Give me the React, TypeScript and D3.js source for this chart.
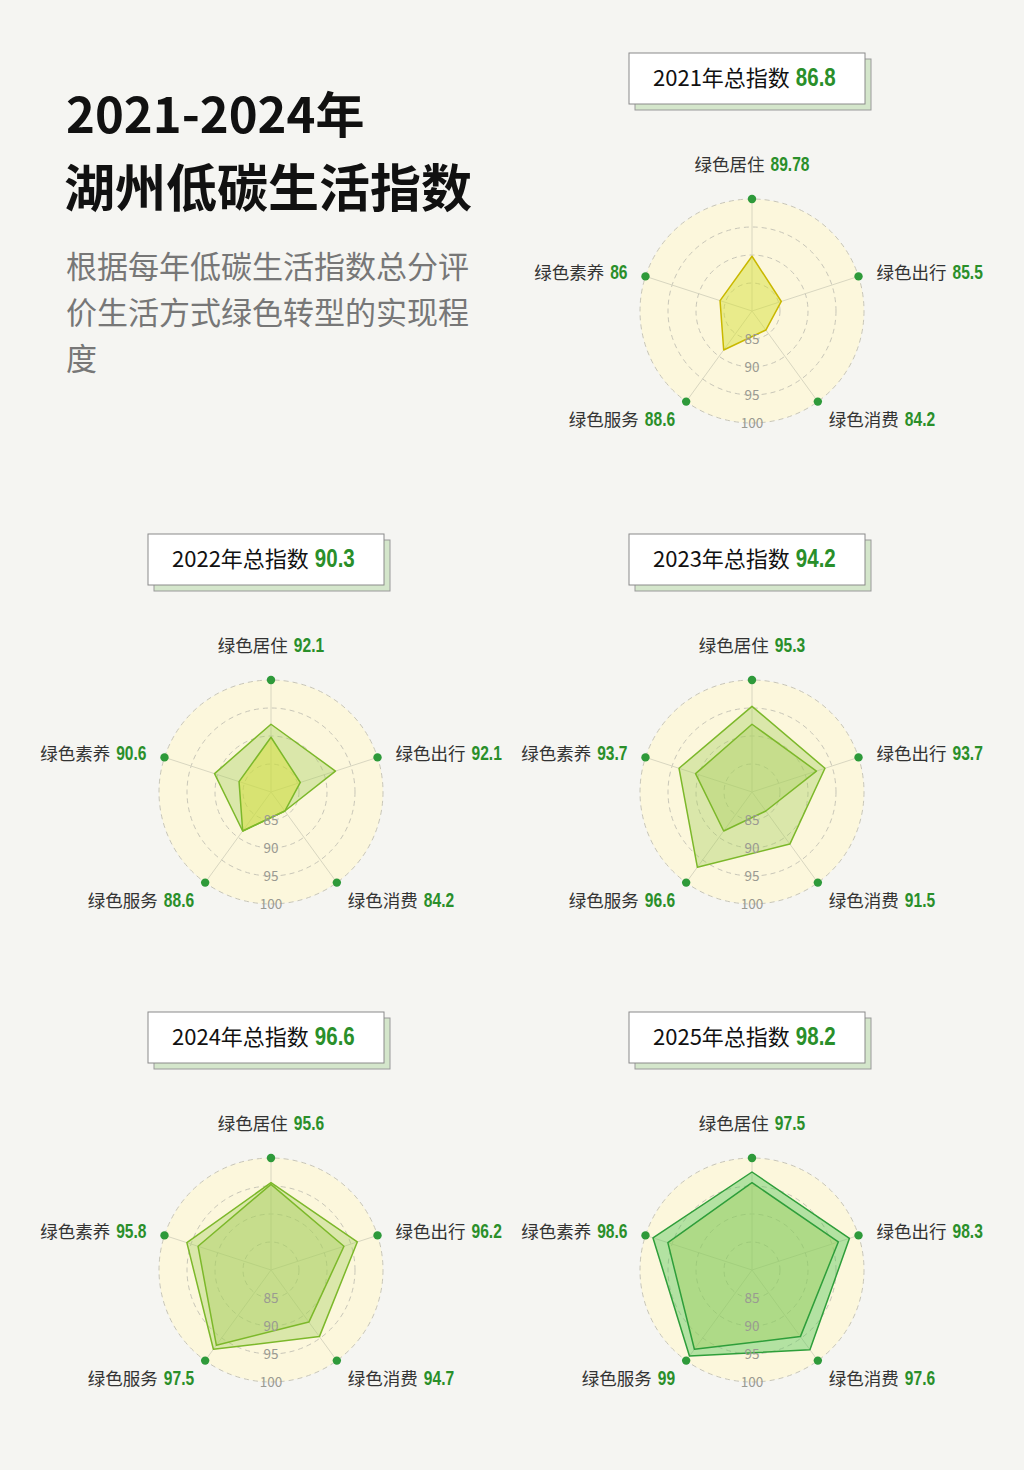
import React from 'react';
import * as d3 from 'd3';

// data
const YEARS = ['2021', '2022', '2023', '2024', '2025'];
const TOTALS = [86.8, 90.3, 94.2, 96.6, 98.2];
const AXES = ['绿色居住', '绿色出行', '绿色消费', '绿色服务', '绿色素养'];
const V2021 = [89.78, 85.5, 84.2, 88.6, 86];
const V2022 = [92.1, 92.1, 84.2, 88.6, 90.6];
const V2023 = [95.3, 93.7, 91.5, 96.6, 93.7];
const V2024 = [95.6, 96.2, 94.7, 97.5, 95.8];
const V2025 = [97.5, 98.3, 97.6, 99, 98.6];
const VALUES = [V2021, V2022, V2023, V2024, V2025];
const RING_TICKS = [85, 90, 95, 100];

// styles
const FILLS = ['#d6e03a', '#a8d060', '#a8d060', '#a8d060', '#5cc85a'];
const FILL_OP = [0.5, 0.4, 0.4, 0.4, 0.45];
const STROKES = ['#c9b800', '#7cb82a', '#7cb82a', '#7cb82a', '#2e9e3a'];
const CENTERS: [number, number][] = [[752, 311], [271, 792], [752, 792], [271, 1270], [752, 1270]];

const CJK = "'Noto Sans CJK SC', 'Noto Sans', sans-serif";
const NUM = "'Liberation Sans', Arial, sans-serif";
const GREEN = '#2a8f2a';

const R = 112;
const rScale = d3.scaleLinear().domain([80, 100]).range([0, R]);
const angle = (i: number) => (i * 2 * Math.PI) / AXES.length;

const radial = d3.lineRadial<number>()
  .angle((_, i) => angle(i))
  .radius(d => rScale(d))
  .curve(d3.curveLinearClosed);

const pt = (i: number, rad: number): [number, number] => [
  rad * Math.sin(angle(i)),
  -rad * Math.cos(angle(i)),
];

// text width helper (canvas)
const ctx = document.createElement('canvas').getContext('2d')!;
const measure = (t: string, font: string) => {
  ctx.font = font;
  return ctx.measureText(t).width;
};

// name + condensed green number
const Label: React.FC<{
  x: number; y: number; anchor: string; name: string; value: number;
  nameSize: number; numSize: number; sx: number; gap: number; nameColor: string;
}> = ({ x, y, anchor, name, value, nameSize, numSize, sx, gap, nameColor }) => {
  const nameW = measure(name, `${nameSize}px ${CJK}`);
  const numW = measure(String(value), `bold ${numSize}px ${NUM}`) * sx;
  const total = nameW + gap + numW;
  const x0 = anchor === 'start' ? x : anchor === 'end' ? x - total : x - total / 2;
  return (
    <g>
      <text x={x0} y={y} fontFamily={CJK} fontSize={nameSize} fill={nameColor}>{name}</text>
      <text transform={`translate(${x0 + nameW + gap},${y}) scale(${sx},1)`} fontFamily={NUM} fontWeight="bold" fontSize={numSize} fill={GREEN}>{value}</text>
    </g>
  );
};

// label placement per axis: [dx, dy(baseline), anchor]
const labelPos = (i: number): [number, number, string] => {
  const [x, y] = pt(i, R);
  if (i === 0) return [0, -140, 'middle'];
  if (i === 1) return [x + 18, y + 2.5, 'start'];
  if (i === 2) return [x + 11, y + 24, 'start'];
  if (i === 3) return [x - 11, y + 24, 'end'];
  return [x - 18, y + 2.5, 'end'];
};

const Radar: React.FC<{ k: number }> = ({ k }) => {
  const [cx, cy] = CENTERS[k];
  const cur = VALUES[k];
  const prev = k > 0 ? VALUES[k - 1] : null;
  return (
    <g transform={`translate(${cx},${cy})`}>
      {/* title box */}
      <rect x={-117} y={-252} width={236} height={51} fill="#d4e6cb" stroke="#9a9a9a" strokeWidth={1} />
      <rect x={-123} y={-258} width={236} height={51} fill="#ffffff" stroke="#8a8a8a" strokeWidth={1} />
      <Label x={-99} y={-225} anchor="start" name={`${YEARS[k]}年总指数`} value={TOTALS[k]}
        nameSize={22} numSize={25} sx={0.82} gap={6} nameColor="#111" />

      {/* background disc */}
      <circle r={R} fill="#fcf7dc" />
      {RING_TICKS.map(t => (
        <circle key={t} r={rScale(t)} fill="none" stroke="#c8c6b8" strokeWidth={1} strokeDasharray="5 4" />
      ))}
      {AXES.map((_, i) => {
        const [x, y] = pt(i, R);
        return <line key={i} x1={0} y1={0} x2={x} y2={y} stroke="#d8d6c0" strokeWidth={1} />;
      })}

      {/* polygons */}
      <path d={radial(cur) || ''} fill={FILLS[k]} fillOpacity={FILL_OP[k]} stroke={STROKES[k]} strokeWidth={1.5} strokeLinejoin="round" />
      {prev && (
        <path d={radial(prev) || ''} fill={FILLS[k - 1]} fillOpacity={FILL_OP[k - 1]} stroke={STROKES[k]} strokeWidth={1.5} strokeLinejoin="round" />
      )}

      {/* ring values */}
      {RING_TICKS.map(t => (
        <text key={t} x={0} y={rScale(t)} dy="0.35em" textAnchor="middle" fontFamily={CJK} fontSize={13.5} fill="#9a9a92">{t}</text>
      ))}

      {/* axis dots + labels */}
      {AXES.map((name, i) => {
        const [x, y] = pt(i, R);
        const [lx, ly, anchor] = labelPos(i);
        return (
          <g key={name}>
            <circle cx={x} cy={y} r={4.2} fill="#2e9a3a" />
            <Label x={lx} y={ly} anchor={anchor} name={name} value={cur[i]}
              nameSize={17.5} numSize={20.5} sx={0.76} gap={6} nameColor="#333" />
          </g>
        );
      })}
    </g>
  );
};

const App: React.FC = () => {
  return (
    <div style={{ position: 'absolute', left: 0, top: 0, width: 1024, height: 1470 }}>
      <svg width={1024} height={1470} style={{ display: 'block' }}>
        <rect width={1024} height={1470} fill="#f5f5f2" />
        <text x={66} y={133} fontFamily={CJK} fontWeight="bold" fontSize={49} fill="#111">2021-2024年</text>
        <text x={64} y={207} fontFamily={CJK} fontWeight="bold" fontSize={51} fill="#111">湖州低碳生活指数</text>
        <text fontFamily={CJK} fontSize={31} fill="#777">
          <tspan x={66} y={278}>根据每年低碳生活指数总分评</tspan>
          <tspan x={66} y={324}>价生活方式绿色转型的实现程</tspan>
          <tspan x={66} y={370}>度</tspan>
        </text>
        {YEARS.map((_, k) => <Radar key={k} k={k} />)}
      </svg>
    </div>
  );
};

export default App;
